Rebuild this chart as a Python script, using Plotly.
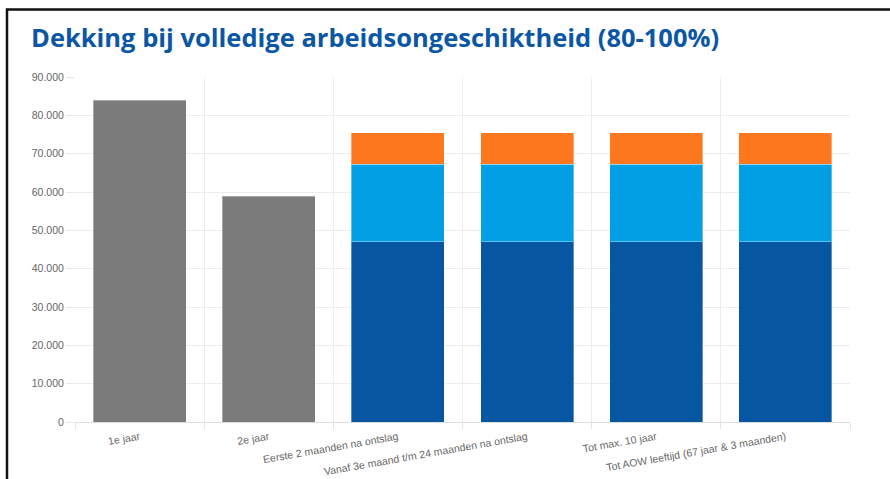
import plotly.graph_objects as go

categories = [
    "1e jaar",
    "2e jaar",
    "Eerste 2 maanden na ontslag",
    "Vanaf 3e maand t/m 24 maanden na ontslag",
    "Tot max. 10 jaar",
    "Tot AOW leeftijd (67 jaar & 3 maanden)",
]
gray_values = [84000, 58900, None, None, None, None]
darkblue_values = [None, None, 47000, 47000, 47000, 47000]
lightblue_values = [None, None, 20200, 20200, 20200, 20200]
orange_values = [None, None, 8300, 8300, 8300, 8300]
y_ticks = [0, 10000, 20000, 30000, 40000, 50000, 60000, 70000, 80000, 90000]

W, H = 890, 479
ML, MR, MT, MB = 75, 40, 77, 57
PW, PH = W - ML - MR, H - MT - MB

fig = go.Figure()
edge = dict(color="rgba(255,255,255,0.35)", width=1)
fig.add_bar(x=categories, y=gray_values, marker=dict(color="#7b7b7b", line=edge), name="gray")
fig.add_bar(x=categories, y=darkblue_values, marker=dict(color="#0656a2", line=edge), name="dark")
fig.add_bar(x=categories, y=lightblue_values, marker=dict(color="#039fe4", line=edge), name="light")
fig.add_bar(x=categories, y=orange_values, marker=dict(color="#fd771f", line=edge), name="orange")


def px_x(px):
    return (px - ML) / PW


def px_y(py):
    return (H - MB - py) / PH


fig.update_layout(
    width=W,
    height=H,
    barmode="stack",
    bargap=0.28,
    showlegend=False,
    separators=",.",
    plot_bgcolor="white",
    paper_bgcolor="white",
    margin=dict(l=ML, r=MR, t=MT, b=MB, pad=0, autoexpand=False),
    font=dict(family="Liberation Sans, Arial, sans-serif", size=10.5, color="#666666"),
    title=dict(
        text="<b>Dekking bij volledige arbeidsongeschiktheid (80-100%)</b>",
        font=dict(family="Open Sans, sans-serif", size=25.5, color="#0b57a4"),
        x=31 / W,
        xanchor="left",
        xref="container",
        y=1 - 38 / H,
        yanchor="middle",
        yref="container",
    ),
    xaxis=dict(
        type="category",
        automargin=False,
        tickson="boundaries",
        showgrid=True,
        gridcolor="#ececec",
        gridwidth=1,
        showline=True,
        linecolor="#dedede",
        linewidth=1,
        ticks="outside",
        ticklen=6,
        tickcolor="#e2e2e2",
        tickangle=-10,
        ticklabelstandoff=4,
        tickfont=dict(size=10.5, color="#666666"),
        fixedrange=True,
    ),
    yaxis=dict(
        automargin=False,
        range=[0, 90000],
        tickvals=y_ticks,
        tickformat=",d",
        showgrid=True,
        gridcolor="#ececec",
        gridwidth=1,
        zeroline=False,
        showline=False,
        ticks="outside",
        ticklen=8,
        tickcolor="#e6e6e6",
        tickfont=dict(size=10.5, color="#666666"),
        fixedrange=True,
    ),
    shapes=[
        dict(
            type="path",
            xref="paper",
            yref="paper",
            path="M {x0},{y0} L {x0},{y1} L {x1},{y1}".format(
                x0=px_x(7), y0=px_y(H + 5), y1=px_y(9.5), x1=px_x(W + 5)
            ),
            line=dict(color="#111111", width=2.5),
            layer="above",
        )
    ],
)

fig.write_html(
    "out.html",
    config={"displayModeBar": False},
    post_script="document.body.style.margin='0';document.body.style.overflow='hidden';",
)
